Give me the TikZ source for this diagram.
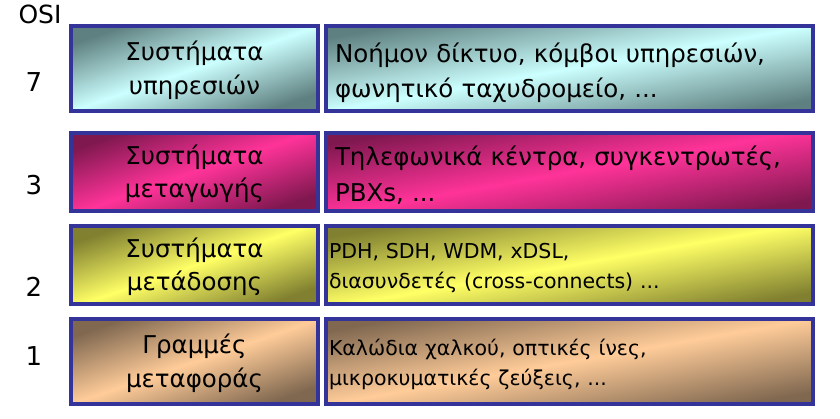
\documentclass[tikz,border=0pt]{standalone}
\usepackage{fontspec}
\setmainfont{DejaVu Sans}
\usepackage{xcolor}
\usetikzlibrary{positioning}

\definecolor{frameblue}{HTML}{333399}
\definecolor{cyanlight}{HTML}{CCFFFF}
\definecolor{cyandark}{HTML}{5F8080}
\definecolor{pinklight}{HTML}{FF3399}
\definecolor{pinkdark}{HTML}{801850}
\definecolor{yellowlight}{HTML}{FFFF66}
\definecolor{yellowdark}{HTML}{808030}
\definecolor{peachlight}{HTML}{FFCC99}
\definecolor{peachdark}{HTML}{806850}

\begin{document}
\begin{tikzpicture}[x=1pt,y=-1pt,
    layer/.style={draw=frameblue, line width=4pt, inner ysep=0pt},
    sysbox/.style={layer, minimum width=247pt, align=center, shading angle=19, text depth=2pt,
        font=\fontsize{24.5}{33.5}\selectfont},
    infobox/.style={layer, align=left, shading angle=10},
    bigtext/.style={inner xsep=9pt, text width=469pt, text depth=32pt,
        font=\fontsize{24.5}{35.5}\selectfont},
    smalltext/.style={inner xsep=3pt, text width=481pt, text depth=28pt,
        font=\fontsize{20.5}{30}\selectfont},
    osinum/.style={font=\fontsize{26}{26}\selectfont},
    shade7/.style={top color=cyandark, bottom color=cyandark, middle color=cyanlight},
    shade3/.style={top color=pinkdark, bottom color=pinkdark, middle color=pinklight},
    shade2/.style={top color=yellowdark, bottom color=yellowdark, middle color=yellowlight},
    shade1/.style={top color=peachdark, bottom color=peachdark, middle color=peachlight}]
    \useasboundingbox (0,0) rectangle (840,418);

    \node[font=\fontsize{25}{25}\selectfont] (osi) at (40,14) {OSI};

    % layer 7
    \node[shade7, sysbox, minimum height=85pt] (sys7) at (194.5,68.5) {Συστήματα\\υπηρεσιών};
    \node[shade7, infobox, bigtext, minimum height=85pt, right=4pt of sys7] (info7)
        {Νοήμον δίκτυο, κόμβοι υπηρεσιών,\\φωνητικό ταχυδρομείο, ...};
    \node[osinum] (num7) at (34,82) {7};

    % layer 3
    \node[shade3, sysbox, minimum height=78pt] (sys3) at (194.5,172) {Συστήματα\\μεταγωγής};
    \node[shade3, infobox, bigtext, minimum height=78pt, right=4pt of sys3] (info3)
        {Τηλεφωνικά κέντρα, συγκεντρωτές,\\PBXs, ...};
    \node[osinum] (num3) at (34,185) {3};

    % layer 2
    \node[shade2, sysbox, minimum height=78pt] (sys2) at (194.5,265) {Συστήματα\\μετάδοσης};
    \node[shade2, infobox, smalltext, minimum height=78pt, right=4pt of sys2] (info2)
        {PDH, SDH, WDM, xDSL,\\διασυνδετές (cross-connects) ...};
    \node[osinum] (num2) at (34,287) {2};

    % layer 1
    \node[shade1, sysbox, minimum height=85pt] (sys1) at (194.5,361.5) {Γραμμές\\μεταφοράς};
    \node[shade1, infobox, smalltext, minimum height=85pt, right=4pt of sys1] (info1)
        {Καλώδια χαλκού, οπτικές ίνες,\\μικροκυματικές ζεύξεις, ...};
    \node[osinum] (num1) at (34,356) {1};
\end{tikzpicture}
\end{document}
